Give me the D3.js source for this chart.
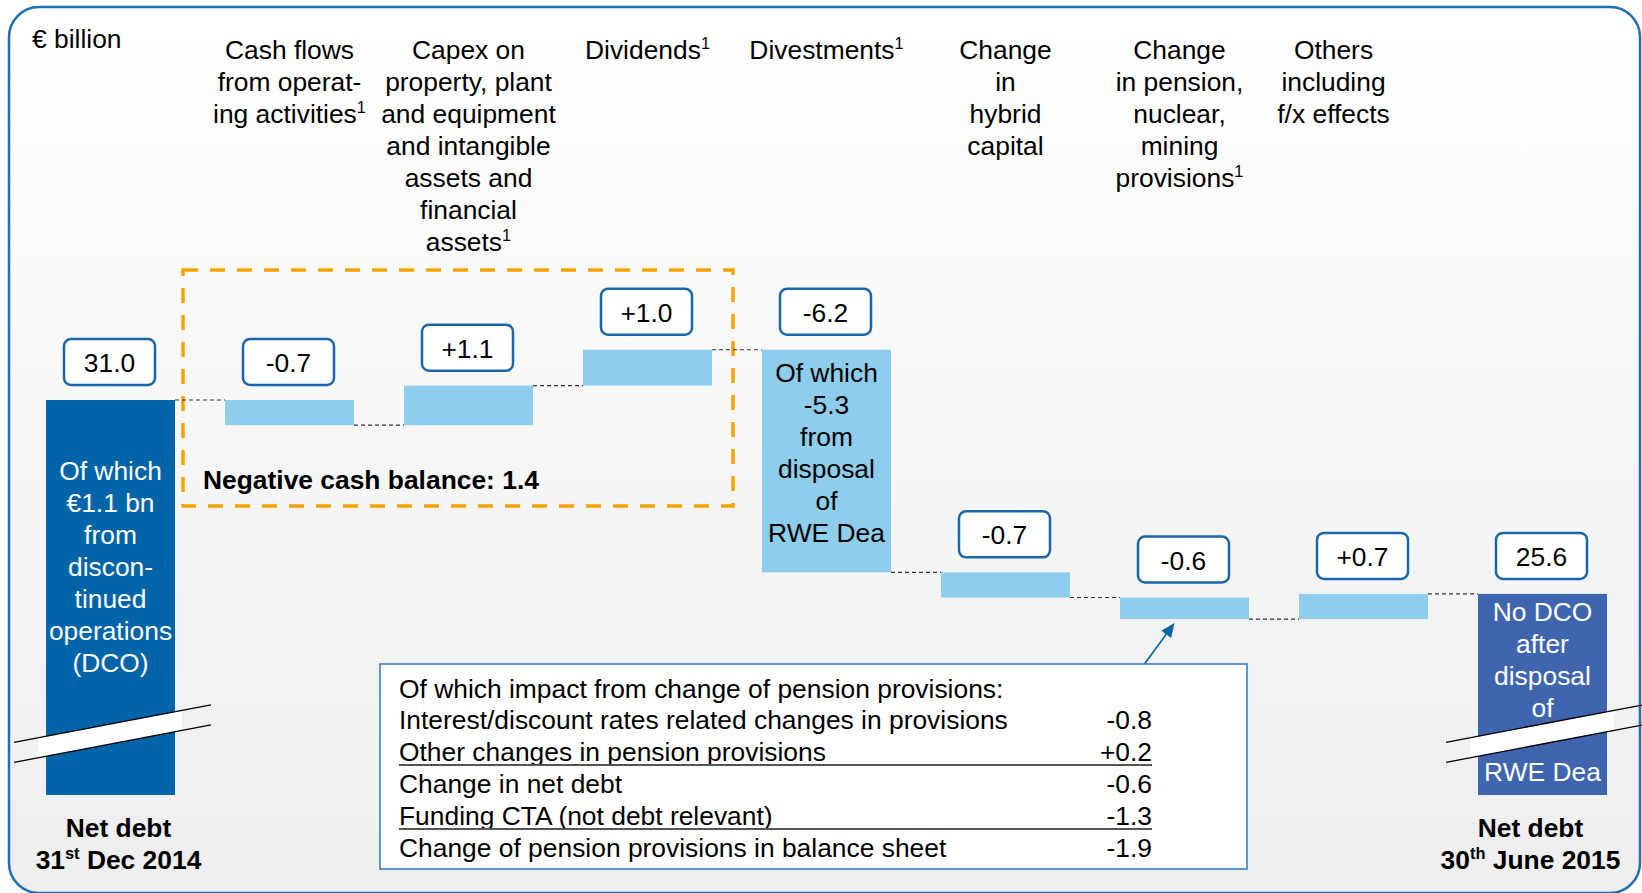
<!DOCTYPE html>
<html>
<head>
<meta charset="utf-8">
<script src="https://cdn.jsdelivr.net/npm/d3@7"></script>
<style>
  body { margin: 0; background: #fff; }
  text { font-family: "Liberation Sans", Arial, sans-serif; }
</style>
</head>
<body>
<svg id="chart" width="1642" height="893"></svg>
<script>
// --- data ---------------------------------------------------------------
var categories = ['start', 'ops', 'capex', 'dividends', 'divest', 'hybrid', 'pension', 'others', 'end'];
var startValue = 31.0;
var deltas = [-0.7, 1.1, 1.0, -6.2, -0.7, -0.6, 0.7];
var endValue = 25.6;

var headers = [
  [],
  ['Cash flows', 'from operat-', 'ing activities¹'],
  ['Capex on', 'property, plant', 'and equipment', 'and intangible', 'assets and', 'financial', 'assets¹'],
  ['Dividends¹'],
  ['Divestments¹'],
  ['Change', 'in', 'hybrid', 'capital'],
  ['Change', 'in pension,', 'nuclear,', 'mining', 'provisions¹'],
  ['Others', 'including', 'f/x effects'],
  []
];

var startNote = ['Of which', '€1.1 bn', 'from', 'discon-', 'tinued', 'operations', '(DCO)'];
var divestNote = ['Of which', '-5.3', 'from', 'disposal', 'of', 'RWE Dea'];
var endNote = ['No DCO', 'after', 'disposal', 'of', '', 'RWE Dea'];

var startFoot = ['Net debt', '31|st| Dec 2014'];
var endFoot = ['Net debt', '30|th| June 2015'];

var cashBalanceText = 'Negative cash balance: 1.4';

var pensionTitle = 'Of which impact from change of pension provisions:';
var pensionLabels = [
  'Interest/discount rates related changes in provisions',
  'Other changes in pension provisions',
  'Change in net debt',
  'Funding CTA (not debt relevant)',
  'Change of pension provisions in balance sheet'
];
var pensionValues = [-0.8, 0.2, -0.6, -1.3, -1.9];
var pensionTotals = [false, true, false, true, false]; // row closes a sum -> underline

// --- setup --------------------------------------------------------------
var svg = d3.select('#chart');
var FONT = 26.4;

var locale = d3.formatLocale({decimal: '.', thousands: ',', grouping: [3], currency: ['', ''], minus: '-'});
var fmtDelta = locale.format('+.1f');
var fmtTotal = locale.format('.1f');

var x = d3.scaleBand()
  .domain(categories)
  .range([46, 1607])
  .paddingInner(50 / 179);
var bw = x.bandwidth();

// broken axis: the totals start from 20 (hidden by the break marks)
var y = d3.scaleLinear().domain([20, 31]).range([795, 400]);

// build waterfall steps
var steps = [];
var running = startValue;
steps.push({key: categories[0], from: 20, to: startValue, total: true, label: fmtTotal(startValue)});
deltas.forEach(function(d, i) {
  steps.push({key: categories[i + 1], from: running, to: running + d, total: false, label: fmtDelta(d)});
  running += d;
});
steps.push({key: categories[8], from: 20, to: endValue, total: true, label: fmtTotal(endValue)});

// --- background frame ---------------------------------------------------
var defs = svg.append('defs');
var grad = defs.append('linearGradient')
  .attr('id', 'bg').attr('x1', 0).attr('y1', 0).attr('x2', 0).attr('y2', 1);
grad.append('stop').attr('offset', '0%').attr('stop-color', '#ffffff');
grad.append('stop').attr('offset', '100%').attr('stop-color', '#eeeeee');

svg.append('rect')
  .attr('x', 9).attr('y', 7)
  .attr('width', 1631).attr('height', 886)
  .attr('rx', 30)
  .attr('fill', 'url(#bg)')
  .attr('stroke', '#1f6fb2')
  .attr('stroke-width', 2.5);

svg.append('text')
  .attr('x', 32).attr('y', 48)
  .attr('font-size', FONT)
  .text('€ billion');

// helper: text with superscript parts (¹ or |st|)
function richText(sel, str, size) {
  var parts = [];
  if (str.indexOf('|') >= 0) {
    str.split('|').forEach(function(p, i) { parts.push({t: p, sup: i % 2 === 1}); });
  } else {
    str.split(/(¹)/).forEach(function(p) {
      if (p === '¹') parts.push({t: '1', sup: true});
      else if (p) parts.push({t: p, sup: false});
    });
  }
  var shifted = false;
  parts.forEach(function(p) {
    if (!p.t) return;
    var ts = sel.append('tspan').text(p.t);
    if (p.sup) {
      ts.attr('font-size', size * 0.62).attr('dy', -size * 0.36);
      shifted = true;
    } else if (shifted) {
      ts.attr('dy', size * 0.36);
      shifted = false;
    }
  });
}

// --- column headers -----------------------------------------------------
var headerShift = {pension: -5, others: -30};
headers.forEach(function(lines, i) {
  var cx = x(categories[i]) + bw / 2 + (headerShift[categories[i]] || 0);
  lines.forEach(function(line, j) {
    var t = svg.append('text')
      .attr('x', cx).attr('y', 59 + j * 32)
      .attr('text-anchor', 'middle')
      .attr('font-size', FONT);
    richText(t, line, FONT);
  });
});

// --- orange dashed box --------------------------------------------------
var boxLeft = x('ops') - 42;
var boxRight = x('dividends') + bw + 21;
svg.append('rect')
  .attr('x', boxLeft).attr('y', 270)
  .attr('width', boxRight - boxLeft).attr('height', 236)
  .attr('fill', 'none')
  .attr('stroke', '#f5a300')
  .attr('stroke-width', 3.5)
  .attr('stroke-dasharray', '15,12');

svg.append('text')
  .attr('x', boxLeft + 20).attr('y', 489)
  .attr('font-size', FONT)
  .attr('font-weight', 'bold')
  .text(cashBalanceText);

// --- connectors ---------------------------------------------------------
var connectors = svg.append('g').attr('class', 'connectors');
steps.slice(0, -1).forEach(function(s, i) {
  var next = steps[i + 1];
  connectors.append('line')
    .attr('x1', x(s.key) + bw).attr('x2', x(next.key))
    .attr('y1', y(s.to)).attr('y2', y(s.to))
    .attr('stroke', '#333')
    .attr('stroke-width', 1.2)
    .attr('stroke-dasharray', '4,3');
});

// --- bars ---------------------------------------------------------------
var barColor = function(d, i) {
  if (!d.total) return '#8ecdeb';
  return i === 0 ? '#0064a8' : '#3e65ae';
};

svg.append('g').attr('class', 'bars')
  .selectAll('rect')
  .data(steps)
  .join('rect')
  .attr('x', function(d) { return x(d.key); })
  .attr('width', bw)
  .attr('y', function(d) { return y(Math.max(d.from, d.to)); })
  .attr('height', function(d) { return Math.abs(y(d.from) - y(d.to)); })
  .attr('fill', barColor);

// --- notes inside bars --------------------------------------------------
function barNote(key, lines, firstBaseline, color) {
  var cx = x(key) + bw / 2;
  lines.forEach(function(line, j) {
    svg.append('text')
      .attr('x', cx).attr('y', firstBaseline + j * 32)
      .attr('text-anchor', 'middle')
      .attr('font-size', FONT)
      .attr('fill', color)
      .text(line);
  });
}
barNote('start', startNote, y(startValue) + 80, '#fff');
barNote('divest', divestNote, y(steps[4].from) + 32, '#000');
barNote('end', endNote, y(endValue) + 27, '#fff');

// --- axis break marks ---------------------------------------------------
function breakMark(key) {
  var bx = x(key);
  var cy = 734, slope = -0.19, gap = 20;
  var yU = function(px) { return cy - gap / 2 + slope * (px - (bx + bw / 2)); };
  var x0 = bx - 8, x1 = bx + bw + 7;
  svg.append('polygon')
    .attr('points', [[x0, yU(x0)], [x1, yU(x1)], [x1, yU(x1) + gap], [x0, yU(x0) + gap]].join(' '))
    .attr('fill', '#fff');
  var l0 = bx - 32, l1 = bx + bw + 36;
  [0, gap].forEach(function(off) {
    svg.append('line')
      .attr('x1', l0).attr('y1', yU(l0) + off)
      .attr('x2', l1).attr('y2', yU(l1) + off)
      .attr('stroke', '#000')
      .attr('stroke-width', 1.4);
  });
}
breakMark('start');
breakMark('end');

// --- value label boxes --------------------------------------------------
var labels = svg.append('g').attr('class', 'value-labels')
  .selectAll('g')
  .data(steps)
  .join('g')
  .attr('transform', function(d) {
    var top = y(Math.max(d.from, d.to));
    return 'translate(' + (x(d.key) + bw / 2 - 1) + ',' + (top - 15 - 46) + ')';
  });
labels.append('rect')
  .attr('x', -45.5).attr('y', 0)
  .attr('width', 91).attr('height', 46)
  .attr('rx', 7)
  .attr('fill', '#fff')
  .attr('stroke', '#1a66ab')
  .attr('stroke-width', 2.5);
labels.append('text')
  .attr('x', 0).attr('y', 33)
  .attr('text-anchor', 'middle')
  .attr('font-size', FONT)
  .text(function(d) { return d.label; });

// --- footer labels ------------------------------------------------------
function footer(key, lines, shift) {
  var cx = x(key) + bw / 2 + shift;
  lines.forEach(function(line, j) {
    var t = svg.append('text')
      .attr('x', cx).attr('y', 837 + j * 32)
      .attr('text-anchor', 'middle')
      .attr('font-size', FONT)
      .attr('font-weight', 'bold');
    richText(t, line, FONT);
  });
}
footer('start', startFoot, 8);
footer('end', endFoot, -12);

// --- pension table ------------------------------------------------------
var tbl = {x: 380, y: 664, w: 867, h: 205};
var pensionBar = steps[6];
var tipX = x('pension') + bw / 2 - 10, tipY = y(pensionBar.to) + 4;
var tailX = tipX - 30, tailY = tbl.y;
var ang = Math.atan2(tipY - tailY, tipX - tailX);
var ah = 14, aw = 6;
svg.append('line')
  .attr('x1', tailX).attr('y1', tailY)
  .attr('x2', tipX - Math.cos(ang) * ah).attr('y2', tipY - Math.sin(ang) * ah)
  .attr('stroke', '#0064a8').attr('stroke-width', 1.6);
svg.append('polygon')
  .attr('points', [
    [tipX, tipY],
    [tipX - Math.cos(ang) * ah - Math.sin(ang) * aw, tipY - Math.sin(ang) * ah + Math.cos(ang) * aw],
    [tipX - Math.cos(ang) * ah + Math.sin(ang) * aw, tipY - Math.sin(ang) * ah - Math.cos(ang) * aw]
  ].join(' '))
  .attr('fill', '#0064a8');

svg.append('rect')
  .attr('x', tbl.x).attr('y', tbl.y)
  .attr('width', tbl.w).attr('height', tbl.h)
  .attr('fill', '#fff')
  .attr('stroke', '#3a80c2')
  .attr('stroke-width', 1.6);

var textX = tbl.x + 19, valueX = 1152;
svg.append('text')
  .attr('x', textX).attr('y', 698)
  .attr('font-size', FONT)
  .text(pensionTitle);

var rowY = d3.scaleLinear().domain([0, 4]).range([729, 857]);
pensionLabels.forEach(function(label, i) {
  svg.append('text')
    .attr('x', textX).attr('y', rowY(i))
    .attr('font-size', FONT)
    .text(label);
  svg.append('text')
    .attr('x', valueX).attr('y', rowY(i))
    .attr('text-anchor', 'end')
    .attr('font-size', FONT)
    .text(fmtDelta(pensionValues[i]));
  if (pensionTotals[i]) {
    svg.append('line')
      .attr('x1', textX).attr('x2', valueX)
      .attr('y1', rowY(i) + 4).attr('y2', rowY(i) + 4)
      .attr('stroke', '#555')
      .attr('stroke-width', 2);
  }
});
</script>
</body>
</html>
